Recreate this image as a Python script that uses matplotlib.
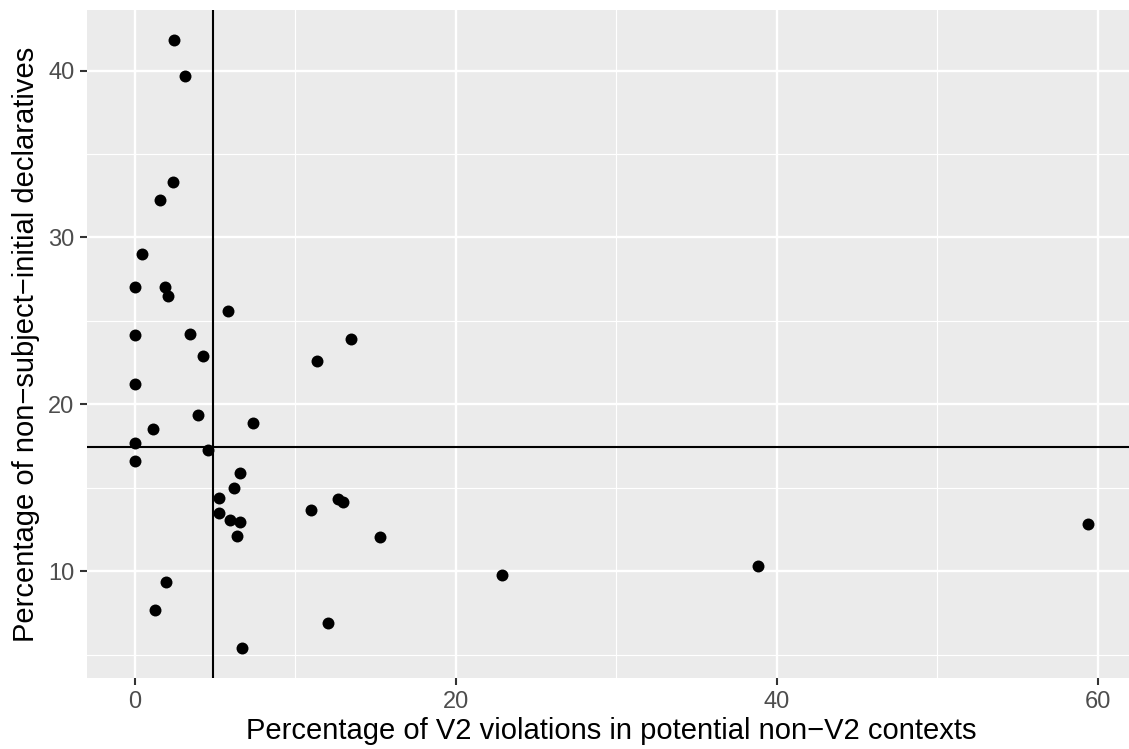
import matplotlib
matplotlib.use("Agg")
import matplotlib.pyplot as plt
import numpy as np

plt.rcParams['font.family'] = ['Liberation Sans', 'DejaVu Sans']

# percentage of V2 violations in potential non-V2 contexts
v2_viol = [2.45, 3.12, 2.37, 1.58, 0.44, 0.0, 1.87, 2.06, 5.81, 0.0,
           3.45, 13.46, 4.24, 11.34, 0.0, 3.97, 7.35, 1.16, 0.0, 4.55,
           0.0, 6.56, 6.19, 5.28, 12.67, 12.96, 10.97, 5.28, 5.92, 6.58,
           6.34, 15.29, 1.95, 1.25, 12.02, 6.71, 22.91, 38.83, 59.38]
# percentage of non-subject-initial declaratives
nonsubj = [41.81, 39.68, 33.35, 32.22, 29.0, 27.05, 27.05, 26.51, 25.61, 24.15,
           24.21, 23.89, 22.89, 22.61, 21.2, 19.36, 18.88, 18.5, 17.68, 17.25,
           16.6, 15.91, 14.99, 14.39, 14.33, 14.13, 13.67, 13.51, 13.09, 12.93,
           12.11, 12.05, 9.34, 7.66, 6.89, 5.41, 9.78, 10.32, 12.86]

vline_x = 4.9
hline_y = 17.45

x_ticks = [0, 20, 40, 60]
y_ticks = [10, 20, 30, 40]

fig = plt.figure(figsize=(11.29, 7.49), dpi=100)
ax = fig.add_axes([87.1 / 1129, 70.7 / 749, (1135.4 - 87.1) / 1129, (678.3 - 10) / 749])
ax.set_facecolor('#EBEBEB')

# ggplot-style 5% expansion
def expand(vals):
    lo, hi = min(vals), max(vals)
    pad = (hi - lo) * 0.05
    return lo - pad, hi + pad

ax.set_xlim(*expand(v2_viol))
ax.set_ylim(*expand(nonsubj))

ax.set_xticks(x_ticks)
ax.set_yticks(y_ticks)
ax.set_xticks([10, 30, 50], minor=True)
ax.set_yticks([5, 15, 25, 35], minor=True)
ax.grid(which='major', color='white', linewidth=1.7)
ax.grid(which='minor', color='white', linewidth=0.85)
ax.set_axisbelow(True)
for s in ax.spines.values():
    s.set_visible(False)

ax.tick_params(which='major', length=5, width=1.5, color='#333333',
               labelsize=17, labelcolor='#4D4D4D', pad=4)
ax.tick_params(which='minor', length=0)

ax.scatter(v2_viol, nonsubj, s=74, color='black', zorder=3, linewidths=0)
ax.axvline(vline_x, color='black', linewidth=1.5, zorder=4)
ax.axhline(hline_y, color='black', linewidth=1.5, zorder=4)

ax.set_xlabel('Percentage of V2 violations in potential non\u2212V2 contexts',
              fontsize=21, labelpad=3)
ax.set_ylabel('Percentage of non\u2212subject\u2212initial declaratives',
              fontsize=21, labelpad=6)

fig.savefig('out.png', dpi=100)
